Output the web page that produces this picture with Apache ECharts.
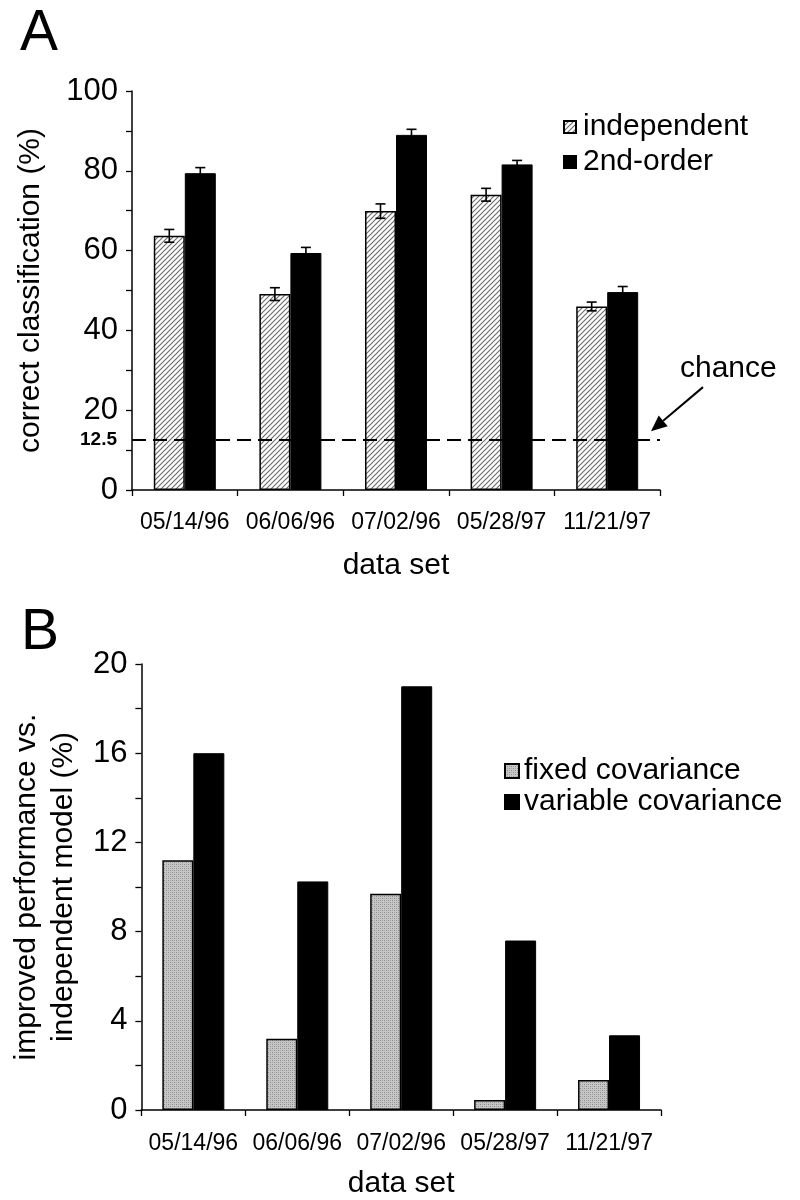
<!DOCTYPE html>
<html>
<head>
<meta charset="utf-8">
<script src="https://cdn.jsdelivr.net/npm/echarts@6/dist/echarts.min.js"></script>
<style>
html,body{margin:0;padding:0;background:#fff;}
#main{width:800px;height:1200px;}
</style>
</head>
<body>
<div id="main"></div>
<script>
// ---- data ----
const categories = ['05/14/96', '06/06/96', '07/02/96', '05/28/97', '11/21/97'];
const independent = [63.7, 49.1, 69.9, 74.0, 46.0];
const independentErr = [1.6, 1.6, 1.8, 1.6, 1.1];
const secondOrder = [79.4, 59.4, 89.0, 81.6, 49.6];
const secondOrderErr = [1.4, 1.4, 1.4, 1.0, 1.4];
const chanceLevel = 12.5;
const fixedCov = [11.2, 3.2, 9.7, 0.45, 1.35];
const variableCov = [16.0, 10.25, 19.0, 7.6, 3.35];
const yTicksA = [0, 20, 40, 60, 80, 100];
const yTicksB = [0, 4, 8, 12, 16, 20];

// ---- styles ----
const FONT = 'Liberation Sans, Arial, Helvetica, sans-serif';
const BAR_W = 31;

function hatchPattern() {
  const c = document.createElement('canvas');
  c.width = 5; c.height = 5;
  const g = c.getContext('2d');
  g.fillStyle = '#ffffff'; g.fillRect(0, 0, 5, 5);
  g.strokeStyle = '#6e6e6e'; g.lineWidth = 1.2;
  g.beginPath();
  g.moveTo(0, 5); g.lineTo(5, 0);
  g.moveTo(-1, 1); g.lineTo(1, -1);
  g.moveTo(4, 6); g.lineTo(6, 4);
  g.stroke();
  return c;
}
function stipplePattern() {
  const c = document.createElement('canvas');
  c.width = 4; c.height = 4;
  const g = c.getContext('2d');
  g.fillStyle = '#c6c6c6'; g.fillRect(0, 0, 4, 4);
  g.fillStyle = '#8c8c8c';
  g.fillRect(0, 0, 1, 1); g.fillRect(2, 2, 1, 1);
  g.fillStyle = '#a8a8a8';
  g.fillRect(2, 0, 1, 1); g.fillRect(0, 2, 1, 1);
  return c;
}
const hatch = { image: hatchPattern(), repeat: 'repeat' };
const stipple = { image: stipplePattern(), repeat: 'repeat' };

function errRender(offset) {
  return function (params, api) {
    const i = api.value(0), v = api.value(1), e = api.value(2);
    const c = api.coord([i, v]);
    const hi = api.coord([i, v + e]);
    const lo = api.coord([i, v - e]);
    const x = c[0] + offset;
    const cw = 5;
    const st = { stroke: '#000', lineWidth: 1.6 };
    return {
      type: 'group',
      children: [
        { type: 'line', shape: { x1: x, y1: hi[1], x2: x, y2: lo[1] }, style: st },
        { type: 'line', shape: { x1: x - cw, y1: hi[1], x2: x + cw, y2: hi[1] }, style: st },
        { type: 'line', shape: { x1: x - cw, y1: lo[1], x2: x + cw, y2: lo[1] }, style: st }
      ]
    };
  };
}

const axisLine = { show: true, lineStyle: { color: '#000', width: 1.5 } };
const axisTick = { show: true, length: 6, lineStyle: { color: '#000', width: 1.3 } };

const chart = echarts.init(document.getElementById('main'), null, { renderer: 'canvas' });

const option = {
  backgroundColor: '#fff',
  animation: false,
  textStyle: { fontFamily: FONT, color: '#000' },
  grid: [
    { left: 132, top: 91, width: 528, height: 399 },
    { left: 133, top: 664, width: 528, height: 448 }
  ],
  legend: [
    {
      data: ['independent', '2nd-order'],
      orient: 'vertical', left: 558, top: 107,
      itemWidth: 12, itemHeight: 12, itemGap: 5,
      icon: 'rect',
      textStyle: { fontFamily: FONT, fontSize: 30, color: '#000', padding: [0, 0, 0, 2] }
    },
    {
      data: ['fixed covariance', 'variable covariance'],
      orient: 'vertical', left: 499, top: 751,
      itemWidth: 14, itemHeight: 14, itemGap: 1,
      icon: 'rect',
      textStyle: { fontFamily: FONT, fontSize: 30, color: '#000', padding: [0, 0, 0, 0] }
    }
  ],
  xAxis: [
    {
      type: 'category', gridIndex: 0, data: categories,
      axisLine: axisLine, axisTick: axisTick,
      axisLabel: { interval: 0, fontFamily: FONT, fontSize: 23, color: '#000', margin: 21 },
      name: 'data set', nameLocation: 'middle', nameGap: 61,
      nameTextStyle: { fontFamily: FONT, fontSize: 30, color: '#000' }
    },
    {
      type: 'category', gridIndex: 1, data: categories,
      axisLine: axisLine, axisTick: axisTick,
      axisLabel: { interval: 0, fontFamily: FONT, fontSize: 23, color: '#000', margin: 22 },
      name: 'data set', nameLocation: 'middle', nameGap: 59,
      nameTextStyle: { fontFamily: FONT, fontSize: 30, color: '#000' }
    }
  ],
  yAxis: [
    {
      type: 'value', gridIndex: 0, min: 0, max: 100, interval: 10,
      axisLine: axisLine, axisTick: axisTick, splitLine: { show: false },
      axisLabel: {
        fontSize: 31, color: '#000', margin: 14,
        formatter: v => (yTicksA.indexOf(v) >= 0 ? String(v) : '')
      },
      name: 'correct classification (%)', nameLocation: 'middle', nameGap: 86,
      nameTextStyle: { fontFamily: FONT, fontSize: 30, color: '#000' }
    },
    {
      type: 'value', gridIndex: 1, min: 0, max: 20, interval: 2,
      axisLine: axisLine, axisTick: axisTick, splitLine: { show: false },
      axisLabel: {
        fontSize: 31, color: '#000', margin: 14,
        formatter: v => (yTicksB.indexOf(v) >= 0 ? String(v) : '')
      },
      name: 'improved performance vs.\nindependent model (%)', nameLocation: 'middle', nameGap: 54,
      nameTextStyle: { fontFamily: FONT, fontSize: 30, color: '#000', lineHeight: 37 }
    }
  ],
  series: [
    {
      name: 'independent', type: 'bar', xAxisIndex: 0, yAxisIndex: 0,
      data: independent, barWidth: BAR_W, barGap: '0%',
      itemStyle: { color: hatch, borderColor: '#000', borderWidth: 1.5 },
      markLine: {
        silent: true, symbol: 'none', z: 10,
        lineStyle: { color: '#000', width: 2, type: [14, 7] },
        label: {
          show: true, position: 'start', formatter: String(chanceLevel),
          fontFamily: FONT, fontWeight: 'bold', fontSize: 19, color: '#000',
          distance: 15, padding: [8, 0, 0, 0]
        },
        data: [{ yAxis: chanceLevel }]
      }
    },
    {
      name: '2nd-order', type: 'bar', xAxisIndex: 0, yAxisIndex: 0,
      data: secondOrder, barWidth: BAR_W, barGap: '0%',
      itemStyle: { color: '#000', borderColor: '#000', borderWidth: 1 }
    },
    {
      type: 'custom', xAxisIndex: 0, yAxisIndex: 0, z: 5, silent: true,
      renderItem: errRender(-BAR_W / 2),
      data: independent.map((v, i) => [i, v, independentErr[i]])
    },
    {
      type: 'custom', xAxisIndex: 0, yAxisIndex: 0, z: 5, silent: true,
      renderItem: errRender(BAR_W / 2),
      data: secondOrder.map((v, i) => [i, v, secondOrderErr[i]])
    },
    {
      name: 'fixed covariance', type: 'bar', xAxisIndex: 1, yAxisIndex: 1,
      data: fixedCov, barWidth: BAR_W, barGap: '0%',
      itemStyle: { color: stipple, borderColor: '#000', borderWidth: 1.5 }
    },
    {
      name: 'variable covariance', type: 'bar', xAxisIndex: 1, yAxisIndex: 1,
      data: variableCov, barWidth: BAR_W, barGap: '0%',
      itemStyle: { color: '#000', borderColor: '#000', borderWidth: 1 }
    }
  ]
};
chart.setOption(option);

// annotations anchored to the chance line
const yChance = chart.convertToPixel({ yAxisIndex: 0 }, chanceLevel);
const xEnd = 132 + 528;
const tip = [xEnd - 9, yChance - 9];
const tail = [tip[0] + 52, tip[1] - 44];
const dx = tip[0] - tail[0], dy = tip[1] - tail[1];
const len = Math.sqrt(dx * dx + dy * dy);
const ux = dx / len, uy = dy / len;
const hl = 16, hw = 7;
const base = [tip[0] - ux * hl, tip[1] - uy * hl];
chart.setOption({
  graphic: [
    { type: 'text', left: 20, top: 6, style: { text: 'A', font: '57px ' + FONT, fill: '#000' } },
    { type: 'text', left: 21, top: 605, style: { text: 'B', font: '57px ' + FONT, fill: '#000' } },
    { type: 'text', left: 680, top: yChance - 86, style: { text: 'chance', font: '30px ' + FONT, fill: '#000' } },
    { type: 'line', shape: { x1: tail[0], y1: tail[1], x2: base[0], y2: base[1] }, style: { stroke: '#000', lineWidth: 2 } },
    {
      type: 'polygon',
      shape: { points: [tip, [base[0] - uy * hw, base[1] + ux * hw], [base[0] + uy * hw, base[1] - ux * hw]] },
      style: { fill: '#000' }
    }
  ]
});
</script>
</body>
</html>
